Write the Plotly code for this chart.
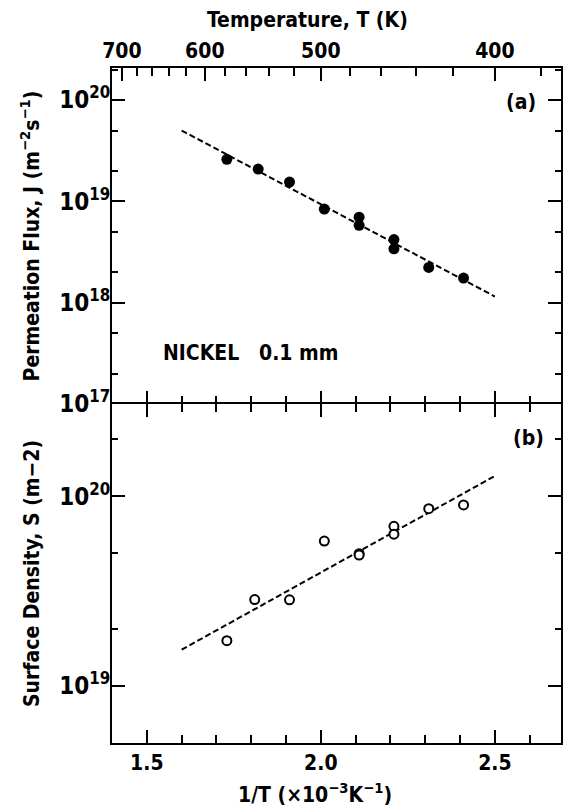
import math
import plotly.graph_objects as go

# ---- data ----
inv_T_a = [1.73, 1.82, 1.91, 2.01, 2.11, 2.11, 2.21, 2.21, 2.31, 2.41]
flux_J = [2.6e19, 2.08e19, 1.55e19, 8.4e18, 6.97e18, 5.8e18, 4.2e18, 3.4e18, 2.23e18, 1.75e18]
fit_a_x = [1.6, 2.5]
fit_a_y = [5.0e19, 1.15e18]

inv_T_b = [1.73, 1.81, 1.91, 2.01, 2.11, 2.11, 2.21, 2.21, 2.31, 2.41]
surf_S = [1.73e19, 2.85e19, 2.84e19, 5.8e19, 4.98e19, 4.9e19, 6.94e19, 6.31e19, 8.6e19, 9.0e19]
fit_b_x = [1.6, 2.5]
fit_b_y = [1.55e19, 1.28e20]

x_major = [1.5, 2.0, 2.5]
x_major_text = ["1.5", "2.0", "2.5"]
x_minor = [1.4, 1.6, 1.7, 1.8, 1.9, 2.1, 2.2, 2.3, 2.4, 2.6]
temp_major = [700, 600, 500, 400]
temp_minor = [680, 660, 640, 620, 580, 560, 540, 520, 480, 460, 440, 420, 380]
ya_major = [1e17, 1e18, 1e19, 1e20]
ya_minor = [2e17, 5e17, 2e18, 5e18, 2e19, 5e19, 2e20]
yb_major = [1e19, 1e20]
yb_minor = [2e19, 5e19, 2e20]

FONT = "Liberation Sans Narrow, Arial Narrow, DejaVu Sans Condensed, Liberation Sans, sans-serif"
XR = [1.4, 2.69]


def sup_labels(vals):
    return ["10<sup>%d</sup>" % round(math.log10(v)) for v in vals]


fig = go.Figure()
fig.add_trace(go.Scatter(x=fit_a_x, y=fit_a_y, mode="lines",
                         line=dict(color="black", width=2, dash="6px,3px"),
                         xaxis="x", yaxis="y", showlegend=False))
fig.add_trace(go.Scatter(x=inv_T_a, y=flux_J, mode="markers",
                         marker=dict(color="black", size=11, symbol="circle"),
                         xaxis="x", yaxis="y", showlegend=False))
fig.add_trace(go.Scatter(x=fit_b_x, y=fit_b_y, mode="lines",
                         line=dict(color="black", width=2, dash="6px,3px"),
                         xaxis="x2", yaxis="y2", showlegend=False))
fig.add_trace(go.Scatter(x=inv_T_b, y=surf_S, mode="markers",
                         marker=dict(color="white", size=9, symbol="circle",
                                     line=dict(color="black", width=2)),
                         xaxis="x2", yaxis="y2", showlegend=False))
# invisible trace so the temperature axis is drawn
fig.add_trace(go.Scatter(x=[1000.0 / temp_major[0]], y=[1e18], mode="markers",
                         marker=dict(opacity=0), xaxis="x3", yaxis="y",
                         showlegend=False, hoverinfo="skip"))

tickfont = dict(family=FONT, size=21, color="black", weight="bold")
ytickfont = dict(family=FONT, size=24, color="black", weight="bold")
titlefont = dict(family=FONT, size=20, color="black", weight="bold")
ytitlefont = dict(family=FONT, size=21, color="black", weight="bold")
dom_split = (743 - 404) / 675.0

fig.update_layout(
    width=568, height=811,
    margin=dict(l=112, r=5, t=68, b=68),
    paper_bgcolor="white", plot_bgcolor="white",
    font=dict(family=FONT, color="black"),
    xaxis=dict(range=XR, domain=[0, 1], anchor="y", showticklabels=False,
               tickvals=x_major, ticks="inside", ticklen=13, tickwidth=2,
               tickcolor="black", showline=False,
               mirror=False, showgrid=False, zeroline=False,
               minor=dict(tickvals=x_minor, ticks="inside", ticklen=8,
                          tickwidth=2, tickcolor="black", showgrid=False)),
    xaxis3=dict(range=XR, overlaying="x", side="top", anchor="y",
                tickvals=[1000.0 / t for t in temp_major],
                ticktext=[str(t) for t in temp_major],
                ticks="inside", ticklen=13, tickwidth=2, tickcolor="black",
                showline=True, linecolor="black", linewidth=2,
                showgrid=False, zeroline=False, tickfont=tickfont,
                minor=dict(tickvals=[1000.0 / t for t in temp_minor], ticks="inside",
                           ticklen=8, tickwidth=2, tickcolor="black", showgrid=False)),
    yaxis=dict(type="log", range=[17, 20.316], domain=[dom_split, 1], anchor="x",
               tickvals=ya_major, ticktext=sup_labels(ya_major),
               ticks="inside", ticklen=13, tickwidth=2, tickcolor="black",
               showline=True, linecolor="black", linewidth=2, mirror="ticks",
               showgrid=False, zeroline=False, tickfont=ytickfont,
               ticklabelstandoff=-5,
               title=dict(text="Permeation Flux, J (m<sup>−2</sup>s<sup>−1</sup>)",
                          font=ytitlefont, standoff=14),
               minor=dict(tickvals=ya_minor, ticks="inside", ticklen=6,
                          tickwidth=2, tickcolor="black", showgrid=False)),
    xaxis2=dict(range=XR, domain=[0, 1], anchor="y2",
                tickvals=x_major, ticktext=x_major_text,
                ticks="inside", ticklen=13, tickwidth=2, tickcolor="black",
                showline=True, linecolor="black", linewidth=2, mirror="ticks",
                showgrid=False, zeroline=False, tickfont=tickfont,
                minor=dict(tickvals=x_minor, ticks="inside", ticklen=8,
                           tickwidth=2, tickcolor="black", showgrid=False)),
    yaxis2=dict(type="log", range=[18.698, 20.487], domain=[0, dom_split], anchor="x2",
                tickvals=yb_major, ticktext=sup_labels(yb_major),
                ticks="inside", ticklen=13, tickwidth=2, tickcolor="black",
                showline=True, linecolor="black", linewidth=2, mirror="ticks",
                showgrid=False, zeroline=False, tickfont=ytickfont,
                ticklabelstandoff=-5,
                title=dict(text="Surface Density, S (m−2)", font=ytitlefont, standoff=14),
                minor=dict(tickvals=yb_minor, ticks="inside", ticklen=6,
                           tickwidth=2, tickcolor="black", showgrid=False)),
    annotations=[
        dict(text="Temperature, T (K)", xref="paper", yref="paper", x=0.435, y=1.071,
             xanchor="center", yanchor="middle", showarrow=False,
             font=dict(family=FONT, size=21, color="black", weight="bold")),
        dict(text="1/T (×10<sup>−3</sup>K<sup>−1</sup>)", xref="paper", yref="paper",
             x=0.452, y=-0.074, xanchor="center", yanchor="middle", showarrow=False,
             font=dict(family=FONT, size=21, color="black", weight="bold")),
        dict(text="NICKEL   0.1 mm", xref="paper", yref="paper", x=0.308, y=0.578,
             xanchor="center", yanchor="middle", showarrow=False,
             font=dict(family=FONT, size=21, color="black", weight="bold")),
        dict(text="(a)", xref="paper", yref="paper", x=0.911, y=0.950,
             xanchor="center", yanchor="middle", showarrow=False,
             font=dict(family=FONT, size=21, color="black", weight="bold")),
        dict(text="(b)", xref="paper", yref="paper", x=0.927, y=0.452,
             xanchor="center", yanchor="middle", showarrow=False,
             font=dict(family=FONT, size=21, color="black", weight="bold")),
    ],
)

fig.write_html("out.html")
